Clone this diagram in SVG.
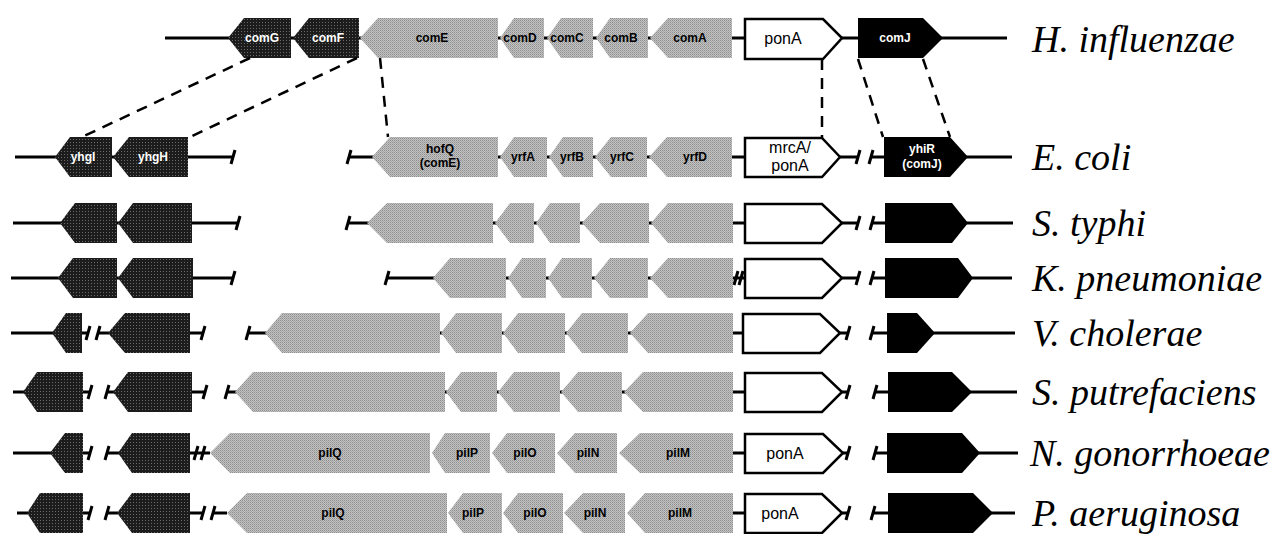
<svg xmlns="http://www.w3.org/2000/svg" xmlns:xlink="http://www.w3.org/1999/xlink" width="1276" height="534" viewBox="0 0 1276 534">
<style>
  .ln{stroke:#000;stroke-width:3;fill:none}
  .tk{stroke:#000;stroke-width:3;fill:none;stroke-linecap:butt}
  .dash{stroke:#000;stroke-width:2.5;stroke-dasharray:11 8;fill:none}
  .gr{fill:url(#halftone)}
  .dk{fill:url(#darktone)}
  .bk{fill:#000}
  .wb{fill:#fff;stroke:#000;stroke-width:2.5;stroke-linejoin:miter}
  .gl{font-family:"Liberation Sans",Arial,sans-serif;font-weight:bold;font-size:12px;text-anchor:middle;fill:#000}
  .gw{font-family:"Liberation Sans",Arial,sans-serif;font-weight:bold;font-size:12px;text-anchor:middle;fill:#fff}
  .pl{font-family:"Liberation Sans",Arial,sans-serif;font-size:16px;text-anchor:middle;fill:#000}
  .sp{font-family:"Liberation Serif","Times New Roman",serif;font-style:italic;font-size:38px;fill:#000}
</style>
<defs>
  <path id="tick" class="tk" d="M-2,7 L2,-7"/>
  <!-- printed halftone screens for the shaded genes -->
  <pattern id="halftone" width="2" height="2" patternUnits="userSpaceOnUse">
    <rect width="2" height="2" fill="#c2c2c2"/>
    <rect width="1" height="1" fill="#8e8e8e"/>
    <rect x="1" y="1" width="1" height="1" fill="#a6a6a6"/>
  </pattern>
  <pattern id="darktone" width="3" height="3" patternUnits="userSpaceOnUse">
    <rect width="3" height="3" fill="#1c1c1c"/>
    <rect x="1" y="1" width="1" height="1" fill="#6a6a6a"/>
  </pattern>
</defs>

<!-- H. influenzae -->
<g id="row-hinf">
  <path class="ln" d="M165,38 H1007"/>
  <g id="comG"><polygon class="dk" points="228,38 244,18 291,18 291,58 244,58"/><text class="gw" x="262" y="42">comG</text></g>
  <g id="comF"><polygon class="dk" points="293,38 309,18 359,18 359,58 309,58"/><text class="gw" x="328" y="42">comF</text></g>
  <g id="comE"><polygon class="gr" points="360,38 378,18 498,18 498,58 378,58"/><text class="gl" x="432" y="42">comE</text></g>
  <g id="comD"><polygon class="gr" points="500,38 514,18 544,18 544,58 514,58"/><text class="gl" x="520" y="42">comD</text></g>
  <g id="comC"><polygon class="gr" points="547,38 561,18 593,18 593,58 561,58"/><text class="gl" x="567" y="42">comC</text></g>
  <g id="comB"><polygon class="gr" points="596,38 610,18 648,18 648,58 610,58"/><text class="gl" x="621" y="42">comB</text></g>
  <g id="comA"><polygon class="gr" points="650,38 668,18 732,18 732,58 668,58"/><text class="gl" x="690" y="42">comA</text></g>
  <g id="ponA-hinf"><polygon class="wb" points="745,19 823,19 842,38 823,59 745,59"/><text class="pl" x="783" y="44">ponA</text></g>
  <g id="comJ"><polygon class="bk" points="858,18 923,18 943,38 923,58 858,58"/><text class="gw" x="895" y="42">comJ</text></g>
  <text class="sp" x="1032" y="52">H. influenzae</text>
</g>

<!-- E. coli -->
<g id="row-ecoli">
  <path class="ln" d="M15,157 H233 M349,157 H745 M840,157 H858 M871,157 H1012"/>
  <use xlink:href="#tick" x="233" y="157"/><use xlink:href="#tick" x="349" y="157"/>
  <use xlink:href="#tick" x="858" y="157"/><use xlink:href="#tick" x="871" y="157"/>
  <g id="yhgI"><polygon class="dk" points="55,157 70,137 112,137 112,177 70,177"/><text class="gw" x="83" y="161">yhgI</text></g>
  <g id="yhgH"><polygon class="dk" points="113,157 129,137 188,137 188,177 129,177"/><text class="gw" x="153" y="161">yhgH</text></g>
  <g id="hofQ"><polygon class="gr" points="372,157 390,137 498,137 498,177 390,177"/><text class="gl" x="440" y="153">hofQ</text><text class="gl" x="440" y="167">(comE)</text></g>
  <g id="yrfA"><polygon class="gr" points="500,157 514,137 547,137 547,177 514,177"/><text class="gl" x="523" y="161">yrfA</text></g>
  <g id="yrfB"><polygon class="gr" points="549,157 563,137 593,137 593,177 563,177"/><text class="gl" x="572" y="161">yrfB</text></g>
  <g id="yrfC"><polygon class="gr" points="595,157 611,137 647,137 647,177 611,177"/><text class="gl" x="622" y="161">yrfC</text></g>
  <g id="yrfD"><polygon class="gr" points="649,157 667,137 732,137 732,177 667,177"/><text class="gl" x="695" y="161">yrfD</text></g>
  <g id="mrcA"><polygon class="wb" points="745,138 822,138 840,157 822,177 745,177"/><text class="pl" x="790" y="153">mrcA/</text><text class="pl" x="790" y="171">ponA</text></g>
  <g id="yhiR"><polygon class="bk" points="884,137 950,137 968,157 950,177 884,177"/><text class="gw" x="922" y="153">yhiR</text><text class="gw" x="922" y="168">(comJ)</text></g>
  <text class="sp" x="1032" y="170">E. coli</text>
</g>

<!-- S. typhi -->
<g id="row-styphi">
  <path class="ln" d="M13,223 H238 M348,223 H745 M842,223 H858 M872,223 H1013"/>
  <use xlink:href="#tick" x="238" y="223"/><use xlink:href="#tick" x="348" y="223"/>
  <use xlink:href="#tick" x="858" y="223"/><use xlink:href="#tick" x="872" y="223"/>
  <g id="st-d1"><polygon class="dk" points="60,223 75,203 117,203 117,243 75,243"/></g>
  <g id="st-d2"><polygon class="dk" points="118,223 133,203 192,203 192,243 133,243"/></g>
  <g id="st-g1"><polygon class="gr" points="367,223 387,203 493,203 493,243 387,243"/></g>
  <g id="st-g2"><polygon class="gr" points="495,223 510,203 534,203 534,243 510,243"/></g>
  <g id="st-g3"><polygon class="gr" points="536,223 550,203 580,203 580,243 550,243"/></g>
  <g id="st-g4"><polygon class="gr" points="582,223 600,203 649,203 649,243 600,243"/></g>
  <g id="st-g5"><polygon class="gr" points="651,223 668,203 733,203 733,243 668,243"/></g>
  <g id="st-pon"><polygon class="wb" points="745,204 822,204 842,223 822,243 745,243"/></g>
  <g id="st-j"><polygon class="bk" points="885,203 952,203 968,223 952,243 885,243"/></g>
  <text class="sp" x="1032" y="236">S. typhi</text>
</g>

<!-- K. pneumoniae -->
<g id="row-kpn">
  <path class="ln" d="M11,278 H233 M387,278 H745 M842,278 H858 M872,278 H1012"/>
  <use xlink:href="#tick" x="233" y="278"/><use xlink:href="#tick" x="387" y="278"/>
  <use xlink:href="#tick" x="736" y="278"/><use xlink:href="#tick" x="741" y="278"/>
  <use xlink:href="#tick" x="858" y="278"/><use xlink:href="#tick" x="872" y="278"/>
  <g id="kp-d1"><polygon class="dk" points="58,278 73,258 117,258 117,298 73,298"/></g>
  <g id="kp-d2"><polygon class="dk" points="118,278 133,258 193,258 193,298 133,298"/></g>
  <g id="kp-g1"><polygon class="gr" points="433,278 450,258 506,258 506,298 450,298"/></g>
  <g id="kp-g2"><polygon class="gr" points="508,278 522,258 546,258 546,298 522,298"/></g>
  <g id="kp-g3"><polygon class="gr" points="548,278 562,258 592,258 592,298 562,298"/></g>
  <g id="kp-g4"><polygon class="gr" points="594,278 610,258 648,258 648,298 610,298"/></g>
  <g id="kp-g5"><polygon class="gr" points="650,278 668,258 733,258 733,298 668,298"/></g>
  <g id="kp-pon"><polygon class="wb" points="745,259 822,259 842,278 822,298 745,298"/></g>
  <g id="kp-j"><polygon class="bk" points="885,258 958,258 973,278 958,298 885,298"/></g>
  <text class="sp" x="1032" y="291">K. pneumoniae</text>
</g>

<!-- V. cholerae -->
<g id="row-vch">
  <path class="ln" d="M11,333 H88 M98,333 H203 M248,333 H743 M840,333 H848 M872,333 H1015"/>
  <use xlink:href="#tick" x="88" y="333"/><use xlink:href="#tick" x="98" y="333"/>
  <use xlink:href="#tick" x="203" y="333"/><use xlink:href="#tick" x="248" y="333"/>
  <use xlink:href="#tick" x="848" y="333"/><use xlink:href="#tick" x="872" y="333"/>
  <g id="vc-d1"><polygon class="dk" points="52,333 66,313 82,313 82,353 66,353"/></g>
  <g id="vc-d2"><polygon class="dk" points="108,333 125,313 190,313 190,353 125,353"/></g>
  <g id="vc-g1"><polygon class="gr" points="265,333 282,313 440,313 440,353 282,353"/></g>
  <g id="vc-g2"><polygon class="gr" points="441,333 456,313 502,313 502,353 456,353"/></g>
  <g id="vc-g3"><polygon class="gr" points="503,333 518,313 565,313 565,353 518,353"/></g>
  <g id="vc-g4"><polygon class="gr" points="566,333 582,313 628,313 628,353 582,353"/></g>
  <g id="vc-g5"><polygon class="gr" points="630,333 648,313 733,313 733,353 648,353"/></g>
  <g id="vc-pon"><polygon class="wb" points="743,314 820,314 840,333 820,353 743,353"/></g>
  <g id="vc-j"><polygon class="bk" points="887,313 917,313 935,333 917,353 887,353"/></g>
  <text class="sp" x="1032" y="346">V. cholerae</text>
</g>

<!-- S. putrefaciens -->
<g id="row-spu">
  <path class="ln" d="M13,392 H90 M107,392 H205 M227,392 H745 M842,392 H848 M875,392 H1017"/>
  <use xlink:href="#tick" x="90" y="392"/><use xlink:href="#tick" x="107" y="392"/>
  <use xlink:href="#tick" x="205" y="392"/><use xlink:href="#tick" x="227" y="392"/>
  <use xlink:href="#tick" x="848" y="392"/><use xlink:href="#tick" x="875" y="392"/>
  <g id="sp-d1"><polygon class="dk" points="23,392 37,372 83,372 83,412 37,412"/></g>
  <g id="sp-d2"><polygon class="dk" points="113,392 128,372 192,372 192,412 128,412"/></g>
  <g id="sp-g1"><polygon class="gr" points="235,392 253,372 445,372 445,412 253,412"/></g>
  <g id="sp-g2"><polygon class="gr" points="446,392 461,372 497,372 497,412 461,412"/></g>
  <g id="sp-g3"><polygon class="gr" points="498,392 514,372 560,372 560,412 514,412"/></g>
  <g id="sp-g4"><polygon class="gr" points="561,392 578,372 622,372 622,412 578,412"/></g>
  <g id="sp-g5"><polygon class="gr" points="624,392 643,372 733,372 733,412 643,412"/></g>
  <g id="sp-pon"><polygon class="wb" points="745,373 822,373 842,392 822,412 745,412"/></g>
  <g id="sp-j"><polygon class="bk" points="888,372 952,372 972,392 952,412 888,412"/></g>
  <text class="sp" x="1032" y="405">S. putrefaciens</text>
</g>

<!-- N. gonorrhoeae -->
<g id="row-ngo">
  <path class="ln" d="M13,453 H90 M107,453 H210 M733,453 H745 M843,453 H848 M875,453 H1018"/>
  <use xlink:href="#tick" x="90" y="453"/><use xlink:href="#tick" x="107" y="453"/>
  <use xlink:href="#tick" x="196" y="453"/><use xlink:href="#tick" x="203" y="453"/>
  <use xlink:href="#tick" x="848" y="453"/><use xlink:href="#tick" x="875" y="453"/>
  <g id="ng-d1"><polygon class="dk" points="50,453 65,433 83,433 83,473 65,473"/></g>
  <g id="ng-d2"><polygon class="dk" points="118,453 132,433 190,433 190,473 132,473"/></g>
  <g id="ng-pilQ"><polygon class="gr" points="210,453 230,433 430,433 430,473 230,473"/><text class="gl" x="330" y="457">pilQ</text></g>
  <g id="ng-pilP"><polygon class="gr" points="432,453 445,433 490,433 490,473 445,473"/><text class="gl" x="467" y="457">pilP</text></g>
  <g id="ng-pilO"><polygon class="gr" points="492,453 507,433 555,433 555,473 507,473"/><text class="gl" x="525" y="457">pilO</text></g>
  <g id="ng-pilN"><polygon class="gr" points="557,453 575,433 617,433 617,473 575,473"/><text class="gl" x="588" y="457">pilN</text></g>
  <g id="ng-pilM"><polygon class="gr" points="619,453 640,433 733,433 733,473 640,473"/><text class="gl" x="678" y="457">pilM</text></g>
  <g id="ng-pon"><polygon class="wb" points="745,434 823,434 843,453 823,473 745,473"/><text class="pl" x="785" y="459">ponA</text></g>
  <g id="ng-j"><polygon class="bk" points="887,433 962,433 980,453 962,473 887,473"/></g>
  <text class="sp" x="1030" y="466">N. gonorrhoeae</text>
</g>

<!-- P. aeruginosa -->
<g id="row-pae">
  <path class="ln" d="M17,513 H90 M107,513 H203 M213,513 H227 M733,513 H745 M842,513 H848 M873,513 H1015"/>
  <use xlink:href="#tick" x="90" y="513"/><use xlink:href="#tick" x="107" y="513"/>
  <use xlink:href="#tick" x="203" y="513"/><use xlink:href="#tick" x="213" y="513"/>
  <use xlink:href="#tick" x="848" y="513"/><use xlink:href="#tick" x="873" y="513"/>
  <g id="pa-d1"><polygon class="dk" points="27,513 40,493 83,493 83,533 40,533"/></g>
  <g id="pa-d2"><polygon class="dk" points="117,513 132,493 190,493 190,533 132,533"/></g>
  <g id="pa-pilQ"><polygon class="gr" points="227,513 247,493 447,493 447,533 247,533"/><text class="gl" x="333" y="517">pilQ</text></g>
  <g id="pa-pilP"><polygon class="gr" points="448,513 463,493 502,493 502,533 463,533"/><text class="gl" x="473" y="517">pilP</text></g>
  <g id="pa-pilO"><polygon class="gr" points="503,513 518,493 563,493 563,533 518,533"/><text class="gl" x="535" y="517">pilO</text></g>
  <g id="pa-pilN"><polygon class="gr" points="564,513 583,493 625,493 625,533 583,533"/><text class="gl" x="595" y="517">pilN</text></g>
  <g id="pa-pilM"><polygon class="gr" points="627,513 645,493 733,493 733,533 645,533"/><text class="gl" x="680" y="517">pilM</text></g>
  <g id="pa-pon"><polygon class="wb" points="745,494 822,494 842,513 822,533 745,533"/><text class="pl" x="780" y="519">ponA</text></g>
  <g id="pa-j"><polygon class="bk" points="888,493 973,493 993,513 973,533 888,533"/></g>
  <text class="sp" x="1032" y="526">P. aeruginosa</text>
</g>

<!-- dashed homology links between H. influenzae and E. coli -->
<g id="connectors">
  <path class="dash" d="M250,58 L82,137"/>
  <path class="dash" d="M357,58 L190,137"/>
  <path class="dash" d="M380,58 L388,137"/>
  <path class="dash" d="M822,59 L822,138"/>
  <path class="dash" d="M858,59 L883,137"/>
  <path class="dash" d="M923,59 L950,137"/>
</g>
</svg>
